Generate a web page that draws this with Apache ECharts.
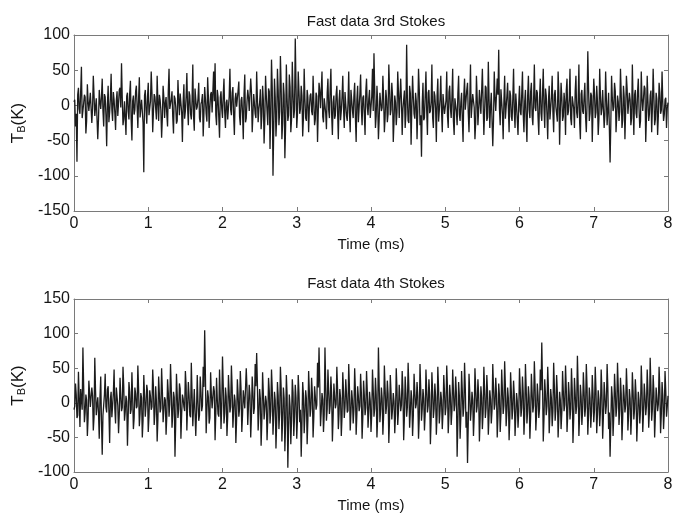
<!DOCTYPE html>
<html><head><meta charset="utf-8">
<script src="https://cdn.jsdelivr.net/npm/echarts@6/dist/echarts.min.js"></script>
<style>html,body{margin:0;padding:0;background:#fff}#c{width:684px;height:517px}</style>
</head><body><div id="c"></div>
<script>
// Time span of each record (ms) and axis ticks
const timeRange = [0, 8];
const xTicks = [0,1,2,3,4,5,6,7,8];
const yTicks3 = [-150,-100,-50,0,50,100];
const yTicks4 = [-100,-50,0,50,100,150];
const titles = ['Fast data 3rd Stokes', 'Fast data 4th Stokes'];

// Brightness temperature samples (K).
// "a" = even samples, "b" = odd samples; together evenly spaced over 0-8 ms
const stokes3a = [
5,-30,-80,25,-12,55,-20,15,-40,30,-8,18,-25,42,-15,10,-48,22,-5,38,-30,12,-58,28,-10,45,-22,8,-35,20,-14,25,60,-28,6,-42,18,-20,35,-50,14,-6,28,-32,40,-18,10,-95,22,-26,
32,-12,48,-38,16,-4,42,-22,8,-46,28,-18,12,-30,52,-6,20,-40,10,-26,36,-14,18,-52,30,-8,46,-28,14,-20,58,-36,22,-2,32,-24,6,-44,26,-12,40,-32,16,-10,48,60,-28,12,-46,20,
-18,38,-32,8,-22,52,-14,26,-42,18,-4,34,-28,12,-48,44,-18,22,-8,38,-38,16,-12,48,-24,4,-34,28,-54,42,-8,24,-62,65,-100,38,-44,52,-28,70,-48,32,-75,58,-22,44,-38,62,-18,95,
-32,48,-12,28,-44,52,-18,22,-38,14,-8,42,-28,18,-52,32,-4,48,-24,10,-34,38,-18,52,-42,14,-14,28,-48,22,-8,42,-32,18,-22,48,-38,8,-18,32,-52,28,-4,44,-28,14,-42,38,-14,22,
-18,52,74,-32,28,-48,18,-8,42,-38,22,-24,58,-14,32,-52,14,-28,48,-18,38,-42,8,-32,86,-22,28,-56,42,-12,18,-48,52,-28,-73,32,-18,48,-42,22,-8,58,-32,14,-52,38,-22,42,-38,18,
-14,48,-32,28,-18,52,-42,8,-28,42,-22,18,-52,38,-8,32,-38,58,-18,14,-48,42,-28,22,-12,52,-42,28,-22,62,-32,18,-58,48,-8,38,79,-28,22,-48,42,-18,32,-38,14,-22,52,-32,18,-42,
28,-14,48,-38,22,-52,42,-18,32,-28,58,-8,18,-42,38,-22,52,-32,14,-48,28,-18,42,-38,22,-12,48,-56,32,-22,18,-42,38,-8,52,-28,14,-32,42,-18,58,-48,22,-12,32,-38,77,-22,18,-52,
38,-18,28,-42,52,-14,22,-32,48,-28,18,-81,42,-8,32,-38,14,-22,52,-32,28,-48,42,-12,18,-28,58,-42,22,-18,38,-32,48,-8,28,-52,42,-22,14,-38,52,-28,18,-42,32,-12,48,-22,8,-32,4
];
const stokes3b = [
8,-12,15,-5,20,-18,3,12,-22,6,-10,18,-4,14,-16,9,-20,5,12,-8,16,-14,2,-24,10,-6,19,-11,7,-15,22,-3,11,-19,4,13,-9,17,-21,6,-13,20,-2,10,-17,8,-25,14,-7,12,
-14,6,18,-9,12,-20,4,15,-7,-18,11,3,-13,21,-5,9,-16,14,-2,-22,8,17,-10,5,-19,13,-4,20,-12,7,-15,24,-6,10,-18,2,16,-11,9,-23,12,-3,19,-8,6,-14,22,-17,11,-5,
15,-10,4,-20,13,-6,18,-14,9,-2,21,-16,7,-11,16,-24,5,12,-8,19,-13,3,-18,10,-5,23,-15,8,-20,14,-28,20,-10,25,-35,12,-18,22,-8,28,-25,15,-30,10,-14,26,-20,18,-6,30,
-12,20,-5,14,-18,9,-22,11,-3,17,-14,6,-20,13,-8,21,-2,-16,10,-11,18,-6,24,-13,4,-19,15,-9,7,-21,12,-4,19,-15,3,-10,22,-7,14,-17,8,-24,16,-5,11,-13,20,-2,9,-18,
13,-8,22,-15,5,-20,16,-3,11,-18,9,-12,24,-6,14,-22,4,-10,19,-16,8,-5,21,-13,10,-25,17,-2,12,-19,6,-9,23,-14,3,-21,15,-7,18,-11,5,-17,20,-4,13,-23,9,-8,16,-12,
7,-15,19,-4,12,-22,10,-9,17,-13,4,-20,14,-6,22,-11,8,-18,16,-3,-24,12,-7,20,-14,5,-10,25,-17,9,-2,18,-21,11,-8,15,-5,23,-12,6,-19,13,-4,21,-16,10,-9,17,-20,3,
-8,16,-12,5,-21,14,-6,19,-15,8,-3,22,-18,10,-11,17,-4,24,-13,7,-20,12,-9,15,-2,-23,18,-7,11,-16,4,21,-14,9,-19,13,-5,20,-10,6,-24,16,-8,12,-17,3,25,-11,14,-6,
18,-10,6,-19,14,-4,22,-13,9,-7,16,-25,11,-2,20,-15,5,-9,17,-21,12,-6,23,-14,8,-18,3,15,-11,19,-5,-22,10,-8,24,-16,7,-12,21,-3,13,-20,9,-15,18,-7,4,-13,11,-4
];
const stokes4a = [
-10,28,-22,45,-35,18,80,-28,12,-48,32,-6,22,-40,65,-18,8,-52,38,-75,-20,42,-14,24,-58,16,-4,48,-30,20,-44,36,-12,52,-26,10,-62,30,-16,44,-38,22,-8,54,-34,14,-50,40,-20,26,
-42,18,-10,48,-32,24,-56,38,-14,50,-28,8,-46,34,-20,56,-36,16,-78,42,-22,28,-52,12,-6,46,-40,30,-18,58,-34,20,-48,40,-26,38,-12,52,105,-44,18,-30,44,-8,24,-54,36,-16,48,-38,
67,-30,22,-48,40,-14,54,-36,12,-58,34,-20,46,-42,18,-8,50,-32,26,-50,38,-16,56,72,-40,20,-62,44,-24,10,-54,36,-30,48,-46,16,-66,30,-38,52,-56,22,-70,40,-94,12,-60,34,-48,26,
-52,40,-28,-78,30,-44,18,-60,46,-20,36,-50,24,-10,58,80,-34,14,-42,80,-26,48,-16,38,-56,28,-8,52,-38,20,-48,44,-22,34,-14,56,-40,18,-30,50,-46,24,-12,42,-52,32,-18,46,-36,16,
-42,48,-20,36,-50,80,-28,22,-46,54,-16,32,-58,40,-24,14,-44,50,-32,26,-12,46,-54,38,-20,58,-36,18,-48,42,-8,30,-52,56,-26,20,-40,48,-14,34,-60,44,-22,28,-46,52,-30,16,-38,40,
-18,54,-44,26,-32,48,-12,38,-78,30,-52,46,-20,58,-36,-87,42,-26,16,-48,50,-14,34,-56,24,-38,52,-22,40,-46,18,-30,56,-10,36,-50,28,-42,48,-16,60,-34,22,-54,44,-24,32,-48,14,-36,
50,-20,38,-46,56,-30,24,-52,42,-14,60,-40,28,-22,48,87,-56,34,-18,52,-44,20,-34,58,-26,40,-50,16,-38,46,-12,54,-42,30,-24,50,-58,36,-16,68,-48,26,-32,44,-20,56,-46,22,-36,40,
-28,52,-44,18,-34,48,-52,30,-16,56,-38,-78,24,-48,42,-20,58,-32,36,-54,26,-14,50,-40,20,-46,44,-24,34,-56,16,-30,54,-42,28,-18,48,-36,65,-26,40,-50,22,-12,52,-44,30,-38,46,-20,10
];
const stokes4b = [
-5,12,-18,6,20,-10,25,-14,4,-22,15,-8,10,-20,18,-3,-15,8,-26,-18,12,-6,19,-12,5,-21,14,-9,22,-4,-16,10,-7,24,-13,2,-19,16,-10,8,-22,13,-5,20,-15,7,-25,11,-3,17,
-20,9,-6,22,-14,3,-24,12,-8,18,-11,4,-19,15,-2,21,-16,8,-28,13,-9,20,-17,6,-12,25,-5,10,-21,14,-7,19,-13,2,-18,16,-4,23,40,-10,8,-22,12,-6,17,-15,5,-20,11,-3,
25,-14,9,-20,15,-6,22,-12,3,-24,13,-8,19,-17,5,-10,21,-4,11,-19,16,-7,24,28,-15,6,-26,14,-9,2,-22,17,-12,20,-18,4,-28,10,-14,22,-24,7,-30,12,-35,-5,-25,15,-20,8,
-22,14,-10,-30,11,-18,6,-24,16,-8,13,-20,9,-3,22,28,-12,5,-17,26,-9,18,-4,12,-21,10,-2,20,-15,7,-19,16,-6,13,-11,21,-14,4,-10,18,-16,9,-5,15,-20,11,-7,17,-13,3,
-16,19,-8,12,-20,26,-10,7,-18,21,-4,13,-23,15,-9,2,-17,20,-12,8,-3,18,-21,14,-6,22,-13,5,-19,16,-2,10,-22,20,-9,6,-15,18,-4,12,-24,17,-8,9,-18,21,-11,4,-14,15,
-6,21,-17,9,-12,18,-3,14,-28,10,-20,16,-7,22,-13,-30,15,-9,4,-19,20,-5,12,-22,8,-14,19,-7,15,-18,5,-11,22,-2,13,-20,10,-16,18,-4,24,-12,7,-21,16,-8,11,-19,3,-13,
20,-7,14,-18,22,-11,8,-20,15,-4,24,-15,10,-8,18,30,-22,12,-5,20,-17,6,-12,23,-9,15,-19,4,-14,17,-3,21,-16,11,-8,19,-23,13,-5,25,-18,9,-11,16,-6,22,-17,7,-13,14,
-10,20,-16,5,-12,18,-20,11,-4,22,-14,-30,8,-18,16,-6,23,-11,13,-21,9,-3,19,-15,6,-17,16,-8,12,-22,4,-10,21,-16,10,-5,18,-13,25,-9,15,-19,7,-2,20,-17,11,-14,17,-6
];

// merge even/odd sample lists into one time-ordered record of [time, value]
function toPairs(a, b){
  const vals = [];
  for (let i = 0; i < a.length; i++) { vals.push(a[i]); if (i < b.length) vals.push(b[i]); }
  const n = vals.length, dt = (timeRange[1]-timeRange[0])/(n-1);
  return vals.map((v,i)=>[timeRange[0]+i*dt, v]);
}

const FONT = '"Liberation Sans", Arial, sans-serif';
const axisCol = '#7a7a7a';
const txt = '#141414';

function xAx(gi, pos, showLabels){
  return {
    type:'value', gridIndex:gi, position:pos, min:xTicks[0], max:xTicks[xTicks.length-1], interval:1,
    axisLine:{show:true, onZero:false, lineStyle:{color:axisCol, width:1}},
    axisTick:{show:true, inside:true, length:4, lineStyle:{color:axisCol}},
    axisLabel:{show:showLabels, color:txt, fontSize:16, fontFamily:FONT, margin:5},
    splitLine:{show:false},
    name: showLabels ? 'Time (ms)' : '', nameLocation:'middle', nameGap:26,
    nameTextStyle:{color:txt, fontSize:15, fontFamily:FONT}
  };
}
function yAx(gi, pos, ticks, showLabels){
  return {
    type:'value', gridIndex:gi, position:pos, min:ticks[0], max:ticks[ticks.length-1], interval:50,
    axisLine:{show:true, onZero:false, lineStyle:{color:axisCol, width:1}},
    axisTick:{show:true, inside:true, length:4, lineStyle:{color:axisCol}},
    axisLabel:{show:showLabels, color:txt, fontSize:16, fontFamily:FONT, margin:4},
    splitLine:{show:false},
    name: showLabels ? 'T{s|B}(K)' : '', nameLocation:'middle', nameGap:44, nameRotate:90,
    nameTextStyle:{color:txt, fontSize:17, fontFamily:FONT,
      rich:{s:{fontSize:11, fontFamily:FONT, color:txt, verticalAlign:'bottom', padding:[5,0,0,0]}}}
  };
}

const chart = echarts.init(document.getElementById('c'), null, {renderer:'canvas'});
chart.setOption({
  backgroundColor:'#fff',
  animation:false,
  title:[
    {text:titles[0], left:371, top:9, textAlign:'center', textStyle:{color:txt, fontSize:15, fontWeight:'normal', fontFamily:FONT}},
    {text:titles[1], left:371, top:271, textAlign:'center', textStyle:{color:txt, fontSize:15, fontWeight:'normal', fontFamily:FONT}}
  ],
  grid:[
    {left:74, top:35, width:594, height:176},
    {left:74, top:299, width:594, height:173}
  ],
  xAxis:[xAx(0,'bottom',true), xAx(0,'top',false), xAx(1,'bottom',true), xAx(1,'top',false)],
  yAxis:[yAx(0,'left',yTicks3,true), yAx(0,'right',yTicks3,false), yAx(1,'left',yTicks4,true), yAx(1,'right',yTicks4,false)],
  series:[
    {type:'line', xAxisIndex:0, yAxisIndex:0, data:toPairs(stokes3a, stokes3b), showSymbol:false, symbol:'none',
     lineStyle:{color:'#1c1c1c', width:1.3}, silent:true},
    {type:'line', xAxisIndex:2, yAxisIndex:2, data:toPairs(stokes4a, stokes4b), showSymbol:false, symbol:'none',
     lineStyle:{color:'#1c1c1c', width:1.3}, silent:true}
  ]
});
</script>
</body></html>
